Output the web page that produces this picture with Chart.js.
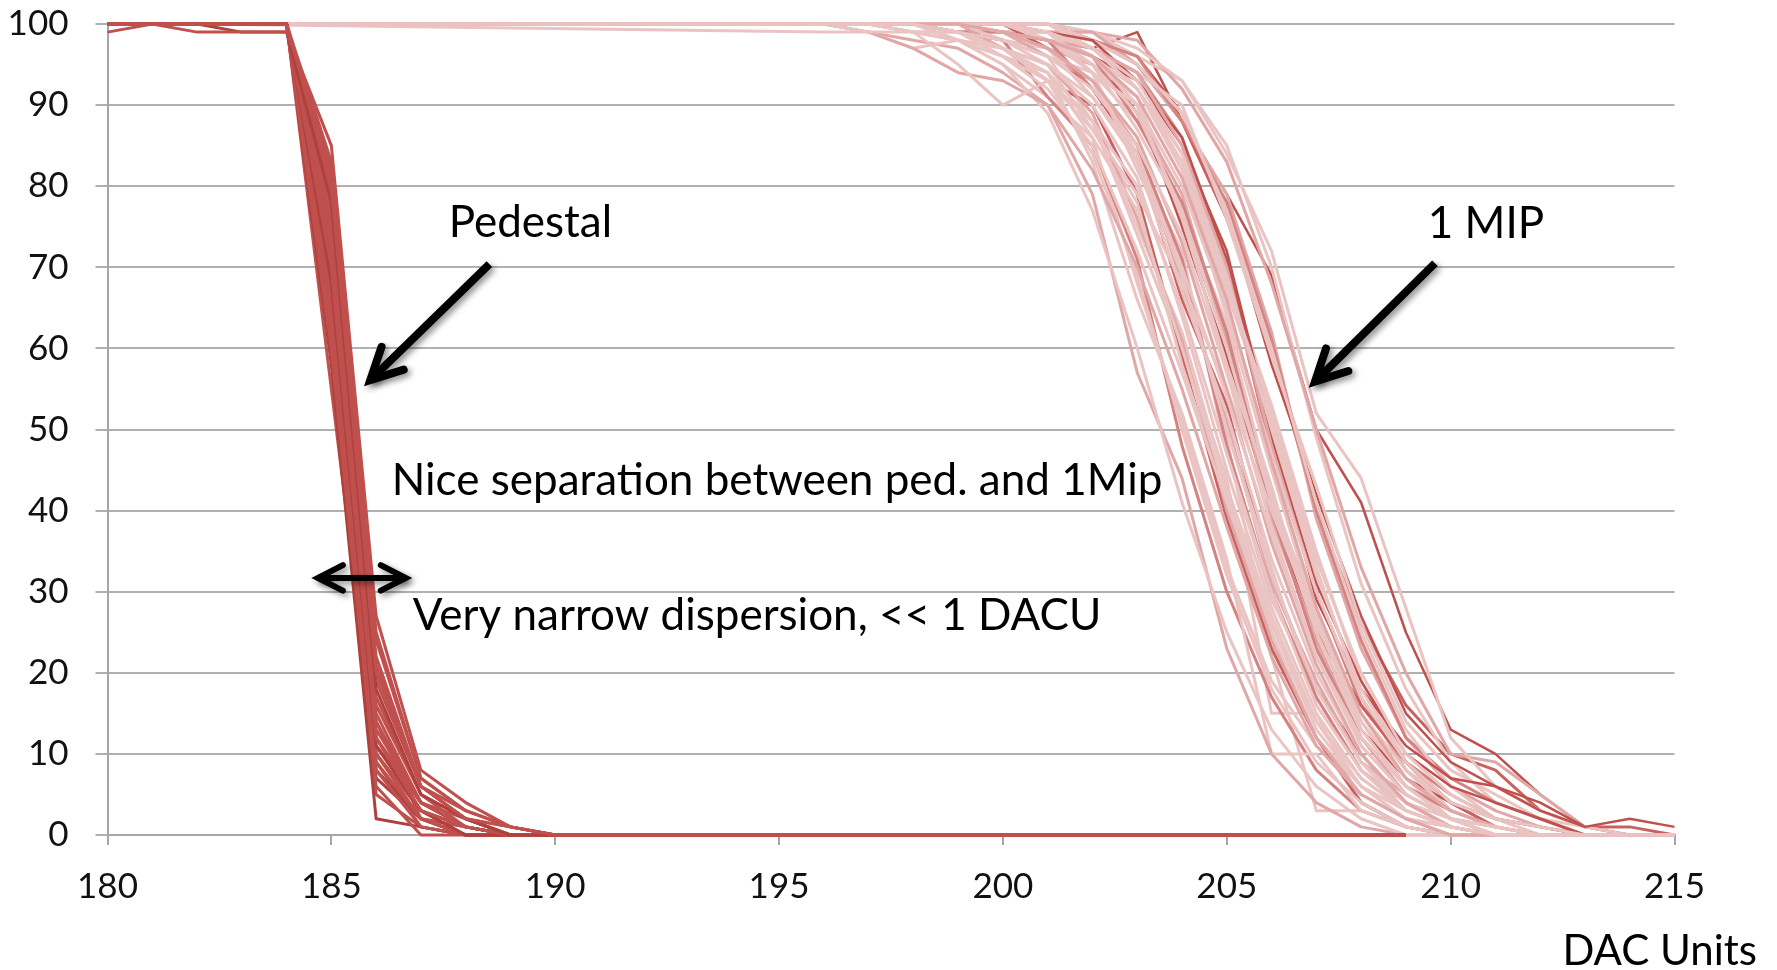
<!DOCTYPE html>
<html>
<head>
<meta charset="utf-8">
<title>Threshold scan - pedestal and 1 MIP</title>
<script src="https://cdn.jsdelivr.net/npm/chart.js@4.4.1/dist/chart.umd.min.js"></script>
<style>
  html, body { margin: 0; padding: 0; background: #fff; }
  #wrap { width: 1777px; height: 970px; }
</style>
</head>
<body>
<div id="wrap"><canvas id="scan" width="1777" height="970"></canvas></div>
<script>
//AXES
const xTicks = [180, 185, 190, 195, 200, 205, 210, 215]
const yTicks = [0, 10, 20, 30, 40, 50, 60, 70, 80, 90, 100]

//PEDESTAL SCAN (efficiency % per channel vs DAC)
const pedX = [180, 181, 182, 183, 184, 185, 186, 187, 188, 189, 190, 209]
const pedestalCurves = [
  [99, 100, 99, 99, 99, 85, 27, 8, 4, 1, 0, 0],
  [100, 100, 100, 100, 100, 83, 24, 7, 3, 1, 0, 0],
  [100, 100, 100, 100, 100, 80, 20, 6, 2, 1, 0, 0],
  [100, 100, 100, 99, 99, 78, 18, 5, 2, 0, 0, 0],
  [100, 100, 100, 100, 100, 75, 15, 4, 1, 0, 0, 0],
  [100, 100, 100, 100, 100, 72, 14, 4, 1, 0, 0, 0],
  [100, 100, 100, 100, 100, 70, 12, 3, 1, 0, 0, 0],
  [100, 100, 100, 100, 100, 68, 11, 3, 0, 0, 0, 0],
  [100, 100, 100, 100, 100, 66, 10, 2, 1, 0, 0, 0],
  [100, 100, 100, 100, 100, 64, 9, 2, 0, 0, 0, 0],
  [100, 100, 100, 100, 100, 62, 8, 1, 0, 0, 0, 0],
  [100, 100, 100, 100, 100, 60, 6, 0, 0, 0, 0, 0],
  [100, 100, 100, 100, 100, 58, 2, 1, 0, 0, 0, 0],
  [100, 100, 100, 100, 100, 55, 10, 3, 1, 0, 0, 0],
  [100, 100, 100, 100, 100, 74, 22, 6, 2, 1, 0, 0],
  [100, 100, 100, 100, 100, 77, 16, 5, 2, 0, 0, 0],
  [100, 100, 100, 100, 100, 79, 13, 4, 1, 0, 0, 0],
  [100, 100, 100, 100, 100, 81, 21, 6, 3, 1, 0, 0],
  [100, 100, 100, 100, 100, 71, 8, 2, 0, 0, 0, 0],
  [100, 100, 100, 100, 100, 69, 17, 5, 1, 0, 0, 0],
  [100, 100, 100, 100, 100, 67, 12, 3, 1, 0, 0, 0],
  [100, 100, 100, 100, 100, 65, 9, 1, 0, 0, 0, 0],
  [100, 100, 100, 100, 100, 73, 11, 4, 1, 0, 0, 0],
  [100, 100, 100, 100, 100, 76, 19, 6, 2, 0, 0, 0],
  [100, 100, 100, 100, 100, 63, 7, 2, 0, 0, 0, 0],
  [100, 100, 100, 100, 100, 59, 5, 1, 0, 0, 0, 0],
  [100, 100, 100, 100, 100, 82, 25, 7, 3, 1, 0, 0],
  [100, 100, 100, 100, 100, 70, 14, 2, 1, 0, 0, 0],
  [100, 100, 100, 100, 100, 73, 10, 3, 0, 0, 0, 0],
  [100, 100, 100, 100, 100, 68, 12, 4, 2, 0, 0, 0]
]
const pedShade = [0, 0, 0, 1, 0, 0, 0, 1, 0, 0, 0, 0, 1, 0, 0, 0, 0, 0, 1, 0, 0, 0, 0, 0, 1, 0, 0, 0, 0, 0]

//1 MIP SCAN (efficiency % per channel vs DAC)
const mipX = [182, 196, 197, 198, 199, 200, 201, 202, 203, 204, 205, 206, 207, 208, 209, 210, 211, 212, 213, 214, 215]
const mipCurves = [
  [100, 100, 100, 100, 99, 97, 95, 91, 83, 70, 54, 37, 22, 12, 6, 2, 1, 0, 0, 0, 0],
  [100, 100, 100, 99, 98, 96, 93, 88, 80, 65, 47, 30, 16, 8, 3, 1, 0, 0, 0, 0, 0],
  [100, 100, 100, 100, 100, 99, 98, 96, 91, 81, 66, 46, 28, 15, 7, 3, 1, 0, 0, 0, 0],
  [100, 100, 99, 99, 98, 97, 95, 90, 81, 64, 45, 28, 15, 7, 3, 1, 0, 0, 0, 0, 0],
  [100, 100, 100, 100, 100, 100, 99, 97, 92, 82, 64, 45, 27, 13, 6, 2, 1, 0, 0, 0, 0],
  [100, 100, 100, 100, 99, 98, 96, 92, 85, 74, 57, 38, 22, 11, 5, 2, 0, 0, 0, 0, 0],
  [100, 100, 100, 100, 100, 99, 97, 93, 86, 73, 55, 36, 21, 10, 4, 1, 0, 0, 0, 0, 0],
  [100, 100, 100, 100, 100, 100, 98, 96, 90, 80, 65, 47, 30, 17, 9, 4, 2, 1, 0, 0, 0],
  [100, 100, 100, 99, 95, 90, 93, 87, 79, 68, 55, 40, 26, 15, 7, 3, 1, 0, 0, 0, 0],
  [100, 100, 99, 97, 94, 93, 90, 82, 70, 55, 38, 22, 11, 5, 2, 0, 0, 0, 0, 0, 0],
  [100, 99, 99, 97, 98, 96, 92, 85, 72, 57, 41, 26, 14, 6, 2, 1, 0, 0, 0, 0, 0],
  [100, 100, 100, 100, 98, 95, 89, 77, 60, 41, 25, 13, 6, 2, 0, 0, 0, 0, 0, 0, 0],
  [100, 100, 99, 98, 97, 94, 90, 79, 57, 44, 23, 10, 4, 1, 0, 0, 0, 0, 0, 0, 0],
  [100, 100, 100, 100, 99, 97, 93, 84, 69, 50, 32, 18, 9, 4, 1, 0, 0, 0, 0, 0, 0],
  [100, 100, 100, 99, 98, 97, 94, 83, 66, 52, 34, 10, 10, 3, 1, 0, 0, 0, 0, 0, 0],
  [100, 100, 100, 100, 99, 98, 91, 85, 71, 48, 30, 17, 8, 3, 1, 0, 0, 0, 0, 0, 0],
  [100, 100, 100, 99, 99, 96, 94, 86, 68, 51, 33, 19, 11, 5, 2, 1, 0, 0, 0, 0, 0],
  [100, 100, 100, 100, 98, 95, 91, 86, 77, 60, 42, 26, 13, 6, 2, 0, 0, 0, 0, 0, 0],
  [100, 100, 100, 100, 100, 97, 95, 89, 76, 61, 40, 24, 12, 5, 2, 1, 0, 0, 0, 0, 0],
  [100, 100, 100, 100, 99, 98, 95, 87, 78, 58, 41, 25, 12, 6, 3, 1, 0, 0, 0, 0, 0],
  [100, 100, 100, 99, 98, 96, 94, 88, 75, 62, 43, 27, 14, 7, 3, 1, 0, 0, 0, 0, 0],
  [100, 100, 100, 100, 99, 97, 93, 90, 79, 59, 39, 23, 12, 4, 1, 0, 0, 0, 0, 0, 0],
  [100, 100, 100, 100, 100, 98, 96, 88, 74, 60, 44, 15, 15, 4, 1, 0, 0, 0, 0, 0, 0],
  [100, 100, 100, 100, 100, 99, 97, 93, 84, 69, 50, 32, 18, 9, 4, 1, 0, 0, 0, 0, 0],
  [100, 100, 100, 100, 99, 99, 98, 92, 85, 71, 48, 30, 17, 8, 3, 1, 0, 0, 0, 0, 0],
  [100, 100, 100, 100, 100, 98, 96, 94, 83, 67, 52, 34, 20, 10, 4, 2, 0, 0, 0, 0, 0],
  [100, 100, 100, 100, 100, 99, 97, 91, 84, 70, 49, 22, 3, 3, 1, 0, 0, 0, 0, 0, 0],
  [100, 100, 100, 100, 99, 99, 96, 93, 85, 68, 51, 31, 19, 9, 5, 2, 1, 0, 0, 0, 0],
  [100, 100, 100, 100, 100, 99, 98, 94, 82, 70, 50, 33, 16, 8, 4, 1, 0, 0, 0, 0, 0],
  [100, 100, 100, 100, 100, 100, 97, 92, 84, 66, 53, 32, 18, 10, 4, 1, 0, 0, 0, 0, 0],
  [100, 100, 100, 99, 99, 98, 97, 93, 83, 72, 47, 29, 18, 9, 3, 1, 0, 0, 0, 0, 0],
  [100, 100, 100, 100, 100, 100, 98, 95, 89, 77, 60, 41, 25, 13, 6, 2, 0, 0, 0, 0, 0],
  [100, 100, 100, 100, 100, 99, 98, 96, 88, 78, 62, 40, 23, 12, 6, 3, 1, 0, 0, 0, 0],
  [100, 100, 100, 100, 100, 100, 99, 94, 90, 76, 58, 42, 26, 14, 7, 2, 1, 0, 0, 0, 0],
  [100, 100, 100, 100, 100, 99, 97, 95, 89, 79, 61, 39, 24, 12, 5, 2, 0, 0, 0, 0, 0],
  [100, 100, 100, 100, 100, 100, 98, 95, 87, 77, 63, 42, 27, 15, 8, 3, 1, 0, 0, 0, 0],
  [100, 100, 100, 100, 99, 99, 98, 96, 90, 75, 59, 40, 25, 13, 7, 4, 2, 1, 0, 0, 0],
  [100, 100, 100, 100, 100, 100, 98, 94, 88, 78, 60, 43, 24, 11, 5, 2, 1, 0, 0, 0, 0],
  [100, 100, 100, 100, 100, 99, 99, 95, 91, 77, 57, 41, 28, 14, 6, 2, 0, 0, 0, 0, 0],
  [100, 100, 100, 100, 100, 100, 98, 96, 89, 76, 61, 40, 25, 16, 9, 4, 1, 0, 0, 0, 0],
  [100, 100, 100, 100, 100, 100, 99, 97, 93, 84, 69, 50, 32, 18, 9, 4, 1, 0, 0, 0, 0],
  [100, 100, 100, 100, 100, 100, 98, 97, 94, 85, 70, 48, 30, 17, 8, 3, 1, 0, 0, 0, 0],
  [100, 100, 100, 100, 100, 99, 99, 96, 92, 83, 68, 52, 34, 20, 10, 5, 2, 0, 0, 0, 0],
  [100, 100, 100, 100, 100, 100, 99, 98, 93, 86, 71, 49, 31, 19, 10, 6, 4, 2, 0, 0, 0],
  [100, 100, 100, 100, 100, 100, 100, 97, 94, 82, 67, 51, 33, 17, 8, 4, 2, 1, 0, 0, 0],
  [100, 100, 100, 100, 100, 100, 99, 96, 93, 85, 72, 50, 29, 18, 11, 7, 6, 3, 1, 2, 1],
  [100, 100, 100, 100, 100, 100, 99, 98, 92, 84, 69, 53, 35, 19, 9, 3, 1, 0, 0, 0, 0],
  [100, 100, 100, 100, 100, 99, 99, 97, 94, 86, 70, 47, 30, 16, 9, 5, 2, 1, 0, 0, 0],
  [100, 100, 100, 100, 100, 100, 100, 98, 95, 89, 77, 60, 41, 25, 13, 6, 2, 1, 0, 0, 0],
  [100, 100, 100, 100, 100, 100, 99, 98, 96, 88, 78, 61, 40, 24, 12, 7, 4, 2, 0, 0, 0],
  [100, 100, 100, 100, 100, 100, 100, 97, 94, 90, 76, 59, 43, 26, 14, 8, 5, 2, 1, 0, 0],
  [100, 100, 100, 100, 100, 100, 99, 99, 95, 88, 79, 62, 39, 23, 12, 6, 3, 1, 0, 0, 0],
  [100, 100, 100, 100, 100, 100, 100, 98, 96, 89, 77, 58, 42, 27, 15, 9, 6, 4, 1, 0, 0],
  [100, 100, 100, 100, 100, 100, 100, 99, 97, 93, 84, 72, 52, 44, 28, 12, 6, 3, 1, 0, 0],
  [100, 100, 100, 100, 100, 100, 100, 99, 98, 92, 83, 68, 50, 33, 20, 10, 9, 5, 1, 0, 0],
  [100, 100, 100, 100, 100, 100, 99, 99, 96, 93, 85, 70, 49, 31, 18, 9, 4, 2, 0, 0, 0],
  [100, 100, 100, 100, 100, 100, 100, 98, 95, 88, 76, 60, 40, 26, 16, 10, 8, 3, 1, 1, 0],
  [100, 100, 100, 100, 100, 99, 98, 97, 99, 88, 79, 69, 50, 41, 25, 13, 10, 5, 1, 0, 0]
]
const mipShade = [4, 4, 3, 4, 4, 4, 3, 4,
                  4, 3, 4, 4, 3, 4, 4, 2, 4, 4, 3, 4, 4, 1, 4, 4, 2,
                  4, 4, 3, 4, 1, 4, 4, 2, 4, 3, 4, 0, 4, 4, 1,
                  4, 3, 4, 0, 4, 0, 4, 2, 4, 2, 4, 3, 0, 4, 3, 4, 1, 0]

//ANNOTATIONS (positions in DAC / % units)
const notes = [
  { text: 'Pedestal', x: 187.62, y: 73.7 },
  { text: '1 MIP', x: 209.49, y: 73.6 },
  { text: 'Nice separation between ped. and 1Mip', x: 186.35, y: 41.9 },
  { text: 'Very narrow dispersion, << 1 DACU', x: 186.82, y: 25.3 }
]
const arrows = [
  { from: [188.53, 70.4], to: [185.87, 56.1], both: false },
  { from: [209.65, 70.5], to: [206.97, 55.9], both: false },
  { from: [184.70, 31.7], to: [186.66, 31.7], both: true }
]

const pedColors = ['#C0504D', '#AE413E']
const mipColors = ['#C0504D', '#C9625F', '#D48381', '#E0A7A6', '#EAC4C3']
const FONT = 'Lato, "Open Sans", sans-serif'

//BUILD DATASETS FROM THE ARRAYS
function buildDatasets() {
  let sets = []
  pedestalCurves.forEach((curve, i) => {
    sets.push({
      data: pedX.map((x, k) => ({ x: x, y: curve[k] })),
      borderColor: pedColors[pedShade[i]],
      borderWidth: 3,
      clip: false
    })
  })
  mipCurves.forEach((curve, i) => {
    sets.push({
      data: mipX.map((x, k) => ({ x: x, y: curve[k] })),
      borderColor: mipColors[mipShade[i]],
      borderWidth: mipShade[i] === 0 ? 2.5 : 3,
      clip: false
    })
  })
  return sets
}

//ARROW HEAD (open chevron)
function chevron(ctx, x, y, back, len, spread) {
  ctx.beginPath()
  ctx.moveTo(x + len * Math.cos(back - spread), y + len * Math.sin(back - spread))
  ctx.lineTo(x, y)
  ctx.lineTo(x + len * Math.cos(back + spread), y + len * Math.sin(back + spread))
  ctx.stroke()
}

function drawArrow(ctx, x1, y1, x2, y2, both) {
  ctx.save()
  ctx.strokeStyle = '#000'
  ctx.lineWidth = both ? 6 : 8
  ctx.lineJoin = 'miter'
  ctx.shadowColor = 'rgba(0,0,0,0.45)'
  ctx.shadowBlur = 6
  ctx.shadowOffsetX = 3
  ctx.shadowOffsetY = 3
  ctx.lineCap = 'butt'
  ctx.beginPath()
  ctx.moveTo(x1, y1)
  ctx.lineTo(x2, y2)
  ctx.stroke()
  ctx.lineCap = 'round'
  let len = both ? 28 : 35
  let spread = 27 * Math.PI / 180
  chevron(ctx, x2, y2, Math.atan2(y1 - y2, x1 - x2), len, spread)
  if (both) chevron(ctx, x1, y1, Math.atan2(y2 - y1, x2 - x1), len, spread)
  ctx.restore()
}

//TEXT AND ARROWS ON TOP OF THE CURVES
const notesPlugin = {
  id: 'notes',
  afterDatasetsDraw(chart) {
    const ctx = chart.ctx
    const xs = chart.scales.x
    const ys = chart.scales.y
    arrows.forEach(a => {
      drawArrow(ctx,
        xs.getPixelForValue(a.from[0]), ys.getPixelForValue(a.from[1]),
        xs.getPixelForValue(a.to[0]), ys.getPixelForValue(a.to[1]), a.both)
    })
    ctx.save()
    ctx.fillStyle = '#000'
    ctx.textBaseline = 'alphabetic'
    ctx.textAlign = 'left'
    ctx.font = '44px ' + FONT
    notes.forEach(n => {
      ctx.fillText(n.text, xs.getPixelForValue(n.x), ys.getPixelForValue(n.y))
    })
    ctx.textAlign = 'right'
    ctx.font = '42px ' + FONT
    ctx.fillText('DAC Units', chart.width - 20, chart.height - 5)
    ctx.restore()
  }
}

function drawChart() {
  const canvas = document.getElementById('scan')
  new Chart(canvas, {
    type: 'line',
    data: { datasets: buildDatasets() },
    options: {
      responsive: false,
      animation: false,
      events: [],
      layout: { padding: { left: 0, right: 102.5, top: 24, bottom: 0 } },
      plugins: { legend: { display: false }, tooltip: { enabled: false } },
      elements: { point: { radius: 0 }, line: { tension: 0, borderJoinStyle: 'round' } },
      scales: {
        x: {
          type: 'linear',
          min: 180,
          max: 215,
          afterFit: s => { s.height = 135 },
          afterBuildTicks: s => { s.ticks = xTicks.map(v => ({ value: v })) },
          grid: { drawOnChartArea: false, drawTicks: true, tickLength: 10, color: '#A6A6A6', lineWidth: 2 },
          border: { color: '#A6A6A6', width: 2 },
          ticks: { font: { family: FONT, size: 35 }, color: '#111', padding: 21, maxRotation: 0 }
        },
        y: {
          type: 'linear',
          min: 0,
          max: 100,
          // fixed axis width; the plot keeps its own top margin
          afterFit: s => { s.width = 107.5; s.paddingTop = 0; s.paddingBottom = 0 },
          afterBuildTicks: s => { s.ticks = yTicks.map(v => ({ value: v })) },
          grid: { color: '#B0B0B0', lineWidth: 2, tickLength: 12 },
          border: { color: '#A6A6A6', width: 2 },
          ticks: { font: { family: FONT, size: 35 }, color: '#111', padding: 27 }
        }
      }
    },
    plugins: [notesPlugin]
  })
}

document.addEventListener('DOMContentLoaded', () => {
  drawChart()
})
</script>
</body>
</html>
